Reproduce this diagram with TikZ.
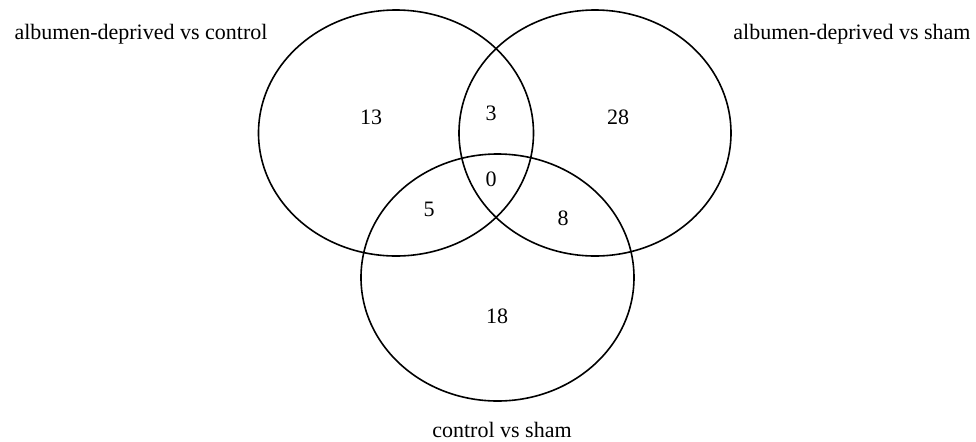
\documentclass[tikz,border=0pt]{standalone}
\usepackage{fontspec}
\setmainfont{Liberation Serif}
\begin{document}
\begin{tikzpicture}[x=0.5pt,y=-0.5pt,
  venn/.style={draw=black,line width=0.8pt},
  lbl/.style={font=\fontsize{11}{13}\selectfont,inner sep=0pt},
  num/.style={font=\fontsize{11}{13}\selectfont,inner sep=0pt}]
\useasboundingbox (0,0) rectangle (976,441);
\draw[venn] (396,133) ellipse [x radius=137.5, y radius=123];
\draw[venn] (595,133) ellipse [x radius=136, y radius=123];
\draw[venn] (497.5,277.5) ellipse [x radius=136.5, y radius=123.5];
\node[lbl] (tA) at (141,34) {albumen-deprived vs control};
\node[lbl] (tB) at (852,34) {albumen-deprived vs sham};
\node[lbl] (tC) at (502,430) {control vs sham};
\node[num] (n13) at (371,117) {13};
\node[num] (n3) at (491,113) {3};
\node[num] (n28) at (618,117) {28};
\node[num] (n0) at (491,179) {0};
\node[num] (n5) at (429,209) {5};
\node[num] (n8) at (563,218) {8};
\node[num] (n18) at (497,316) {18};
\end{tikzpicture}
\end{document}
